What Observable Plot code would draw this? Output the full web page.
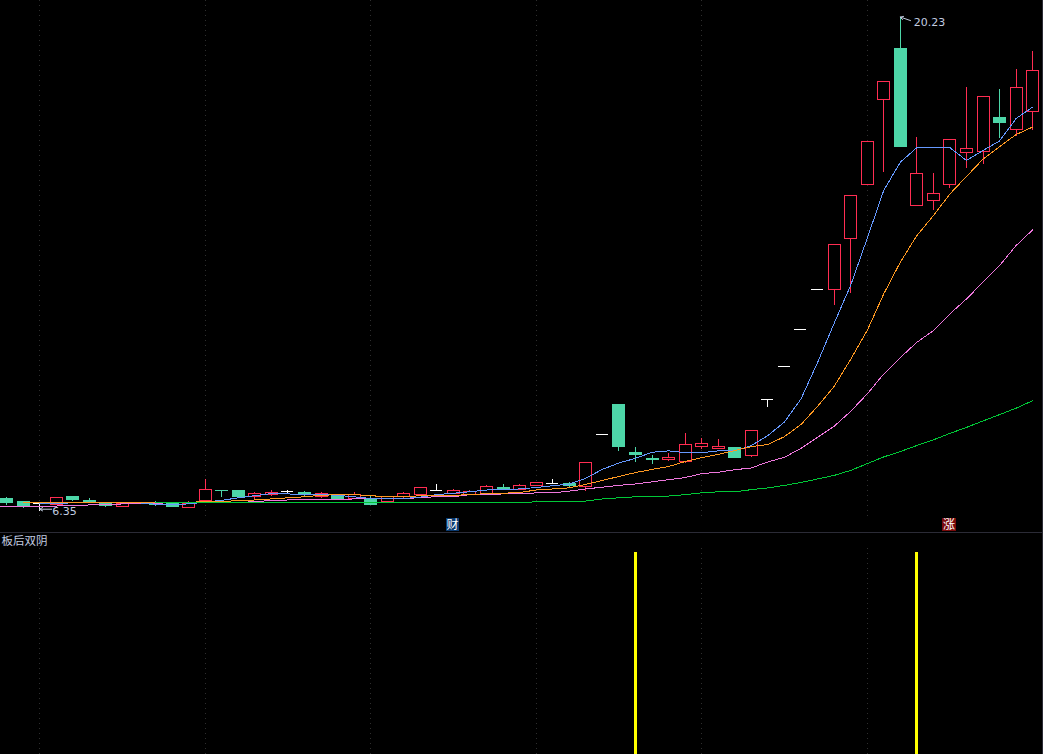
<!DOCTYPE html>
<html>
<head>
<meta charset="utf-8">
<script src="https://cdn.jsdelivr.net/npm/d3@7"></script>
<script src="https://cdn.jsdelivr.net/npm/@observablehq/plot@0.6"></script>
<style>
html,body{margin:0;padding:0;background:#000;overflow:hidden}
svg{display:block}
</style>
</head>
<body>
<div id="chart"></div>
<script>
const opens = [6.70,6.59,6.56,6.51,6.73,6.62,6.56,6.46,6.58,6.58,6.55,6.43,6.62,6.92,6.90,6.74,6.79,6.89,6.86,6.73,6.79,6.69,6.67,6.59,6.74,6.81,6.94,6.84,6.79,6.81,7.01,6.94,7.04,7.11,7.12,7.02,8.49,9.34,7.97,7.80,7.77,7.72,8.16,8.10,8.13,7.89,9.47,10.41,11.44,12.57,12.57,13.99,15.51,17.90,19.32,14.93,15.06,15.51,16.40,16.43,17.38,17.05,17.57];
const closes = [6.58,6.48,6.56,6.72,6.65,6.61,6.50,6.55,6.57,6.53,6.46,6.56,6.95,6.91,6.73,6.83,6.86,6.89,6.79,6.83,6.70,6.79,6.53,6.73,6.84,7.01,6.94,6.90,6.87,7.03,6.94,7.04,7.14,7.11,7.04,7.70,8.49,8.16,7.91,7.79,7.85,8.21,8.22,8.16,7.83,8.60,9.47,10.41,11.44,12.57,13.83,15.21,16.72,18.41,16.57,15.83,15.26,16.78,16.53,17.99,17.24,18.24,18.72];
const highs = [6.74,6.59,6.59,6.72,6.73,6.70,6.56,6.55,6.59,6.62,6.55,6.61,7.24,6.92,6.90,6.86,6.93,6.93,6.89,6.87,6.79,6.87,6.76,6.74,6.87,7.01,7.10,6.95,6.93,7.07,7.10,7.10,7.14,7.23,7.15,7.70,8.49,9.34,8.13,7.91,7.97,8.53,8.39,8.36,8.13,8.60,9.47,10.41,11.44,12.57,13.83,15.21,16.72,18.41,20.23,16.85,15.83,16.78,18.25,17.99,18.19,18.76,19.26];
const lows = [6.51,6.42,6.35,6.51,6.61,6.60,6.45,6.46,6.56,6.49,6.46,6.43,6.62,6.74,6.73,6.66,6.76,6.84,6.74,6.70,6.66,6.69,6.50,6.59,6.70,6.81,6.91,6.81,6.79,6.81,6.94,6.93,7.04,7.10,7.01,6.91,8.49,8.02,7.71,7.66,7.74,7.69,8.08,8.08,7.83,7.85,9.26,10.41,11.44,12.57,12.13,12.47,15.51,15.87,16.57,14.93,14.79,15.42,15.98,16.09,16.82,16.87,17.04];

const maBlue = [null,null,6.56,6.56,6.58,6.58,6.58,6.58,6.58,6.54,6.53,6.55,6.60,6.65,6.72,6.78,6.84,6.83,6.81,6.82,6.79,6.75,6.70,6.69,6.70,6.74,6.81,6.85,6.89,6.94,6.95,6.97,7.01,7.06,7.11,7.27,7.52,7.70,7.83,8.00,8.04,7.99,7.99,8.04,8.04,8.19,8.47,8.85,9.50,10.52,11.62,12.69,14.01,15.36,16.15,16.56,16.56,16.56,16.20,16.48,16.75,17.38,17.70];
const maOrange = [null,6.59,6.59,6.59,6.59,6.59,6.59,6.59,6.59,6.59,6.59,6.59,6.62,6.62,6.64,6.66,6.69,6.72,6.75,6.79,6.81,6.81,6.78,6.75,6.75,6.78,6.79,6.79,6.81,6.84,6.85,6.87,6.94,6.97,7.00,7.10,7.21,7.32,7.43,7.52,7.60,7.74,7.85,7.94,8.05,8.16,8.22,8.44,8.78,9.29,9.85,10.61,11.42,12.45,13.34,14.09,14.65,15.26,15.75,16.24,16.59,16.93,17.14];
const maPink = [6.47,6.47,6.47,6.49,6.50,6.52,6.52,6.55,6.55,6.57,6.58,6.58,6.58,6.58,6.58,6.62,6.64,6.66,6.66,6.66,6.66,6.69,6.69,6.69,6.69,6.73,6.75,6.75,6.81,6.81,6.83,6.83,6.86,6.86,6.91,6.97,7.02,7.07,7.11,7.17,7.23,7.29,7.40,7.44,7.51,7.56,7.73,7.86,8.11,8.42,8.73,9.15,9.64,10.20,10.66,11.09,11.42,11.89,12.31,12.78,13.25,13.81,14.25];
const maGreen = [null,null,null,null,null,null,null,null,null,6.58,6.58,6.58,6.58,6.58,6.58,6.58,6.58,6.58,6.58,6.58,6.58,6.58,6.58,6.58,6.58,6.58,6.58,6.58,6.58,6.58,6.58,6.58,6.61,6.61,6.61,6.63,6.69,6.72,6.75,6.75,6.77,6.81,6.86,6.89,6.89,6.95,7.00,7.07,7.15,7.25,7.35,7.49,7.68,7.87,8.02,8.19,8.35,8.53,8.70,8.88,9.06,9.24,9.45];
const pinkBeforeStart = 6.47;

const gridIndex = [2,12,22,32,42,52];
const signalIndex = [38,55];
const badgeIndex = [27,57];
const badgeText = ["财","涨"];
const badgeFill = ["#0a3a70","#7a0a0a"];
const highLabel = "20.23";
const lowLabel = "6.35";
const indicatorTitle = "板后双阴";

const RED="#ff2d52", TEAL="#4dd6a8", WHITE="#ffffff", LABEL="#c2cde0", EDGE="#2b2b36", DOT="#2e2e2e";
const candles = opens.map((o,i)=>({i,o,c:closes[i],h:highs[i],l:lows[i],
  top:Math.max(o,closes[i]),bot:Math.min(o,closes[i]),
  color:closes[i]>o?RED:closes[i]<o?TEAL:WHITE,
  fill:closes[i]<o?TEAL:"#000"}));
const solid = candles.filter(d=>d.o!==d.c);
const doji = candles.filter(d=>d.o===d.c);
const series = arr => arr.map((v,i)=>({i,v}));
const maLine = (data,color)=>Plot.line(data,{x:"i",y:"v",stroke:color,strokeWidth:1,curve:"linear",shapeRendering:"crispEdges",clip:true});

const xDomain=[-0.3686,62.653], edgeX=62.59;
const crisp={shapeRendering:"crispEdges"};
const peakIdx=highs.indexOf(d3.max(highs)), lowIdx=lows.indexOf(d3.min(lows));
const badges=badgeIndex.map((i,k)=>({i,t:badgeText[k],f:badgeFill[k]}));

const main = Plot.plot({
  width:1043,height:532,margin:0,
  style:{background:"#000"},
  x:{domain:xDomain,range:[0,1043],axis:null},
  y:{domain:[5.746,20.695],range:[532,0],axis:null},
  marks:[
    Plot.ruleX(gridIndex,{y1:20.695,y2:6.14,stroke:DOT,strokeWidth:1,strokeDasharray:"1 4",...crisp}),
    Plot.ruleX([edgeX],{stroke:EDGE,...crisp}),
    Plot.ruleX(candles.filter(d=>d.h>d.top),{x:"i",y1:"h",y2:"top",stroke:"color",...crisp}),
    Plot.ruleX(candles.filter(d=>d.l<d.bot),{x:"i",y1:"bot",y2:"l",stroke:"color",...crisp}),
    Plot.rect(solid,{x1:d=>d.i-0.3323,x2:d=>d.i+0.3927,y1:"bot",y2:"top",fill:"fill",stroke:"color",...crisp}),
    Plot.ruleY(doji,{x1:d=>d.i-0.3625,x2:d=>d.i+0.3625,y:"o",stroke:"color",...crisp}),
    maLine([{i:-1,v:pinkBeforeStart},...series(maPink)],"#ee77dd"),
    maLine(series(maBlue),"#6699ff"),
    maLine(series(maOrange),"#ff9922"),
    maLine(series(maGreen),"#00c837"),
    Plot.arrow([0],{x1:peakIdx+0.62,y1:highs[peakIdx]-0.1,x2:peakIdx,y2:highs[peakIdx],stroke:LABEL,strokeWidth:1,headLength:5,bend:0}),
    Plot.text([highLabel],{x:peakIdx,y:highs[peakIdx],text:d=>d,dx:13.5,dy:5.5,textAnchor:"start",fill:LABEL,fontSize:11,fontFamily:"DejaVu Sans"}),
    Plot.arrow([0],{x1:lowIdx+0.72,y1:lows[lowIdx]+0.05,x2:lowIdx,y2:lows[lowIdx]+0.05,stroke:LABEL,strokeWidth:1,headLength:5,bend:0}),
    Plot.text([lowLabel],{x:lowIdx,y:lows[lowIdx],text:d=>d,dx:12.5,dy:0,textAnchor:"start",fill:LABEL,fontSize:11,fontFamily:"DejaVu Sans"}),
    Plot.rect(badges,{x1:d=>d.i-0.42,x2:d=>d.i+0.37,y1:5.77,y2:6.13,fill:"f",...crisp}),
    Plot.text(badges,{x:"i",y:5.95,text:"t",dx:-1,fill:"#fff",fontSize:12,fontFamily:"Noto Sans CJK SC"})
  ]
});

const sub = Plot.plot({
  width:1043,height:222,margin:0,
  style:{background:"#000"},
  x:{domain:xDomain,range:[0,1043],axis:null},
  y:{domain:[0,1.099],range:[222,0],axis:null},
  marks:[
    Plot.ruleY([1.099],{stroke:EDGE,...crisp}),
    Plot.ruleX(gridIndex,{y1:0,y2:1.02,stroke:DOT,strokeWidth:1,strokeDasharray:"1 4",...crisp}),
    Plot.ruleX([edgeX],{stroke:EDGE,...crisp}),
    Plot.ruleX(signalIndex,{y1:0,y2:1,stroke:"#ffff00",strokeWidth:3,...crisp}),
    Plot.text([indicatorTitle],{x:xDomain[0],y:1.054,dx:1,textAnchor:"start",lineAnchor:"middle",text:d=>d,fill:LABEL,fontSize:11.5,fontFamily:"Noto Sans CJK SC"})
  ]
});
document.getElementById("chart").append(main,sub);
</script>
</body>
</html>
